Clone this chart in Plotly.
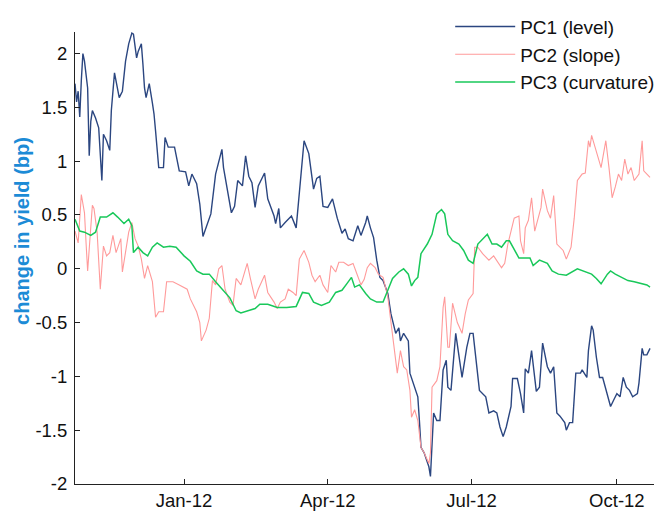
import pandas as pd
import plotly.graph_objects as go

# ---- data (days relative to 2012-01-01, values in bp) ----
pc1_day = [-69, -68, -67, -66, -65, -64, -63, -62, -61, -60, -59, -58, -56, -54, -53, -52, -51, -49, -47, -46,
           -44, -43, -41, -39, -37, -35, -33, -32, -30, -29, -27, -26, -25, -24, -22, -20, -19, -18, -16, -13,
           -12, -10, -6, -3, 1, 3, 5, 8, 10, 12, 14, 15, 17, 20, 23, 24, 25, 28, 30, 32,
           34, 37, 39, 41, 43, 45, 47, 51, 53, 57, 58, 60, 61, 64, 68, 71, 73, 76, 79, 82,
           84, 86, 88, 91, 94, 97, 100, 102, 104, 107, 110, 112, 115, 116, 118, 120, 122, 124, 126, 129,
           131, 134, 136, 137, 139, 142, 143, 146, 148, 149, 150, 152, 155, 156, 157, 158, 160, 162, 164, 166,
           167, 169, 172, 174, 176, 179, 181, 183, 185, 187, 191, 193, 196, 198, 200, 202, 204, 206, 207, 208,
           211, 213, 215, 216, 218, 220, 221, 223, 225, 227, 230, 232, 234, 236, 238, 241, 242, 244, 246, 248,
           251, 252, 255, 256, 258, 259, 261, 263, 265, 268, 270, 272, 274, 276, 278, 280, 282, 284, 287, 288,
           290, 291, 293, 295]
pc1_val = [1.72, 1.55, 1.65, 1.41, 1.75, 2.00, 1.93, 1.81, 1.68, 1.05, 1.37, 1.47, 1.40, 1.31, 1.05, 0.82, 1.25, 1.19, 1.10, 1.47,
           1.82, 1.75, 1.59, 1.65, 1.93, 2.09, 2.19, 2.18, 1.96, 2.02, 2.09, 1.90, 1.68, 1.59, 1.72, 1.54, 1.44, 1.28, 0.94, 0.94,
           1.22, 1.13, 1.13, 0.91, 0.90, 0.77, 0.88, 0.79, 0.60, 0.30, 0.38, 0.42, 0.51, 0.88, 1.07, 1.11, 0.94, 0.70, 0.52, 0.58,
           0.82, 0.77, 1.05, 0.86, 0.80, 0.57, 0.77, 0.89, 0.65, 0.49, 0.42, 0.56, 0.38, 0.43, 0.49, 0.38, 0.71, 1.19, 1.07, 0.74,
           0.84, 0.86, 0.58, 0.57, 0.65, 0.47, 0.33, 0.37, 0.28, 0.26, 0.40, 0.31, 0.43, 0.49, 0.38, 0.29, 0.08, -0.08, -0.11, -0.23,
           -0.42, -0.60, -0.55, -0.67, -0.60, -0.67, -0.97, -1.10, -1.19, -1.41, -1.66, -1.71, -1.84, -1.93, -1.68, -1.34, -1.41, -1.41, -0.94, -0.85,
           -1.10, -1.13, -0.60, -0.79, -1.01, -0.73, -0.60, -0.60, -0.85, -1.13, -1.19, -1.34, -1.32, -1.34, -1.47, -1.56, -1.47, -1.34, -1.28, -1.02,
           -1.02, -1.16, -1.34, -0.93, -0.97, -0.76, -0.91, -1.14, -1.10, -0.69, -0.91, -0.97, -0.91, -1.34, -1.37, -1.43, -1.50, -1.43, -1.43, -0.97,
           -0.97, -0.94, -1.01, -0.76, -0.53, -0.57, -0.82, -1.01, -1.01, -1.16, -1.28, -1.22, -1.16, -1.19, -1.01, -1.10, -1.13, -1.19, -1.16, -1.06,
           -0.74, -0.80, -0.80, -0.74]

pc2_day = [-69, -67, -65, -63, -62, -61, -58, -57, -55, -53, -51, -49, -47, -45, -43, -40, -39, -37, -35, -33,
           -31, -29, -27, -25, -23, -20, -18, -16, -13, -11, -7, -3, 2, 4, 8, 10, 11, 14, 16, 18,
           20, 22, 24, 26, 29, 31, 33, 36, 40, 42, 45, 47, 51, 53, 57, 59, 61, 64, 66, 69,
           71, 73, 76, 79, 81, 83, 86, 88, 91, 93, 96, 98, 101, 104, 107, 109, 112, 114, 116, 118,
           121, 123, 126, 129, 131, 134, 135, 137, 139, 141, 143, 144, 146, 148, 150, 152, 155, 156, 157, 160,
           162, 164, 165, 167, 168, 170, 173, 176, 178, 180, 183, 184, 186, 189, 193, 196, 199, 201, 203, 205,
           207, 209, 212, 213, 215, 216, 218, 220, 222, 224, 226, 227, 230, 232, 234, 236, 238, 240, 242, 245,
           247, 249, 252, 254, 256, 257, 258, 260, 262, 264, 267, 269, 271, 273, 275, 277, 279, 281, 283, 285,
           288, 290, 291, 293, 295]
pc2_val = [0.35, 0.24, 0.69, 0.52, 0.24, -0.02, 0.59, 0.56, 0.34, -0.19, 0.21, 0.12, 0.15, 0.31, 0.15, 0.28, -0.03, 0.15, 0.34, 0.43,
           0.28, 0.21, 0.09, -0.09, 0.03, -0.12, -0.45, -0.40, -0.40, -0.12, -0.12, -0.15, -0.19, -0.28, -0.40, -0.50, -0.67, -0.57, -0.46, -0.11,
           -0.15, 0.00, 0.03, -0.19, -0.31, -0.34, -0.09, -0.15, 0.05, -0.09, -0.28, -0.19, -0.06, -0.22, -0.31, -0.37, -0.31, -0.28, -0.19, -0.22,
           -0.25, 0.09, 0.17, 0.06, -0.06, -0.12, -0.06, -0.15, -0.22, 0.03, -0.03, 0.06, 0.06, 0.03, 0.05, -0.03, -0.15, -0.10, 0.01, 0.05,
           0.01, -0.05, -0.08, -0.26, -0.50, -0.82, -0.97, -0.76, -0.91, -0.94, -1.13, -1.38, -1.31, -1.41, -1.66, -1.71, -1.81, -1.71, -1.10, -1.04,
           -0.91, -0.36, -0.26, -0.73, -0.73, -0.32, -0.50, -0.60, -0.42, -0.29, -0.23, 0.20, 0.20, 0.14, 0.08, 0.12, 0.05, 0.01, 0.05, 0.23,
           0.35, 0.47, 0.49, 0.26, 0.14, 0.38, 0.45, 0.66, 0.35, 0.45, 0.57, 0.74, 0.54, 0.47, 0.68, 0.23, 0.20, 0.17, 0.09, 0.20,
           0.47, 0.82, 0.88, 0.89, 1.19, 1.13, 1.24, 1.13, 1.04, 0.94, 1.19, 0.94, 0.66, 0.76, 0.88, 0.82, 1.02, 0.88, 0.94, 0.82,
           0.88, 1.19, 0.91, 0.88, 0.85]

pc3_day = [-69, -66, -63, -59, -56, -53, -49, -45, -42, -38, -35, -33, -32, -29, -26, -23, -20, -17, -13, -9,
           -5, 0, 4, 8, 12, 16, 20, 23, 26, 29, 31, 33, 36, 41, 45, 48, 53, 59, 65, 71,
           75, 79, 82, 87, 92, 96, 100, 103, 106, 108, 111, 115, 118, 122, 126, 129, 132, 136, 139, 142,
           144, 146, 148, 150, 154, 157, 160, 163, 165, 167, 170, 174, 177, 180, 183, 186, 188, 192, 195, 198,
           201, 204, 206, 208, 212, 215, 219, 221, 225, 230, 233, 237, 242, 249, 254, 258, 261, 264, 268, 270,
           273, 277, 281, 285, 290, 293, 295]
pc3_val = [0.46, 0.35, 0.34, 0.31, 0.34, 0.48, 0.48, 0.52, 0.48, 0.42, 0.46, 0.40, 0.15, 0.20, 0.15, 0.12, 0.20, 0.24, 0.20, 0.21,
           0.20, 0.12, 0.07, -0.02, -0.05, -0.05, -0.12, -0.17, -0.22, -0.27, -0.33, -0.39, -0.41, -0.39, -0.37, -0.33, -0.33, -0.36, -0.36, -0.35,
           -0.22, -0.23, -0.31, -0.34, -0.31, -0.22, -0.20, -0.14, -0.08, -0.17, -0.15, -0.23, -0.28, -0.31, -0.31, -0.20, -0.09, -0.03, 0.00, -0.05,
           -0.16, -0.11, -0.08, 0.14, 0.23, 0.32, 0.51, 0.55, 0.51, 0.32, 0.26, 0.23, 0.17, 0.08, 0.05, 0.23, 0.26, 0.32, 0.23, 0.23,
           0.20, 0.26, 0.26, 0.21, 0.10, 0.10, 0.10, 0.03, 0.08, 0.05, -0.02, -0.05, -0.06, 0.00, -0.03, -0.05, -0.09, -0.14, -0.05, -0.02,
           -0.05, -0.08, -0.11, -0.12, -0.14, -0.15, -0.17]

series_names = ["PC1 (level)", "PC2 (slope)", "PC3 (curvature)"]
y_tick_vals = [-2, -1.5, -1, -0.5, 0, 0.5, 1, 1.5, 2]
y_tick_text = ["-2", "-1.5", "-1", "-0.5", "0", "0.5", "1", "1.5", "2"]
x_tick_vals = ["2012-01-01", "2012-04-01", "2012-07-01", "2012-10-01"]
x_tick_text = ["Jan-12", "Apr-12", "Jul-12", "Oct-12"]
y_title = "change in yield (bp)"

base = pd.Timestamp("2012-01-01")
def to_dates(days):
    return base + pd.to_timedelta(days, unit="D")

colors = ["#2b4680", "#ff9a9a", "#19c85a"]
widths = [1.4, 1.1, 1.5]

fig = go.Figure()
for i, (name, d, v, c, w) in enumerate(zip(series_names, [pc1_day, pc2_day, pc3_day],
                                           [pc1_val, pc2_val, pc3_val], colors, widths)):
    fig.add_trace(go.Scatter(x=to_dates(d), y=v, mode="lines", name=name, legendgroup="g%d" % i,
                             line=dict(color=c, width=w)))

font_family = "Liberation Sans, Arial, sans-serif"
# the page body has an 8px default margin, so the figure is sized/offset to compensate
fig.update_layout(
    width=658, height=512,
    margin=dict(l=67, r=12, t=24, b=36, autoexpand=False),
    paper_bgcolor="white", plot_bgcolor="white",
    font=dict(family=font_family, size=18.5, color="#111111"),
    showlegend=True,
    legend=dict(x=0.648, y=1.0538, xanchor="left", yanchor="top",
                font=dict(size=19, color="#111111"),
                bgcolor="rgba(0,0,0,0)", borderwidth=0, itemwidth=60,
                tracegroupgap=0),
    xaxis=dict(range=["2011-10-24", "2012-10-24 12:00"], tickvals=x_tick_vals, ticktext=x_tick_text,
               showline=True, linecolor="#222222", linewidth=1, ticks="inside", ticklen=5,
               tickcolor="#222222", showgrid=False, zeroline=False, mirror=False),
    yaxis=dict(range=[-2, 2.2], tickvals=y_tick_vals, ticktext=y_tick_text,
               showline=True, linecolor="#222222", linewidth=1, ticks="inside", ticklen=5,
               tickcolor="#222222", showgrid=False, zeroline=False, mirror=False,
               ticklabelstandoff=3),
    annotations=[dict(text="<b>" + y_title + "</b>", xref="paper", yref="paper",
                      x=-0.0915, y=0.56, xanchor="center", yanchor="middle", textangle=-90,
                      showarrow=False, font=dict(size=20, color="#1c8bd6", family=font_family))],
)

fig.write_html("out.html")
